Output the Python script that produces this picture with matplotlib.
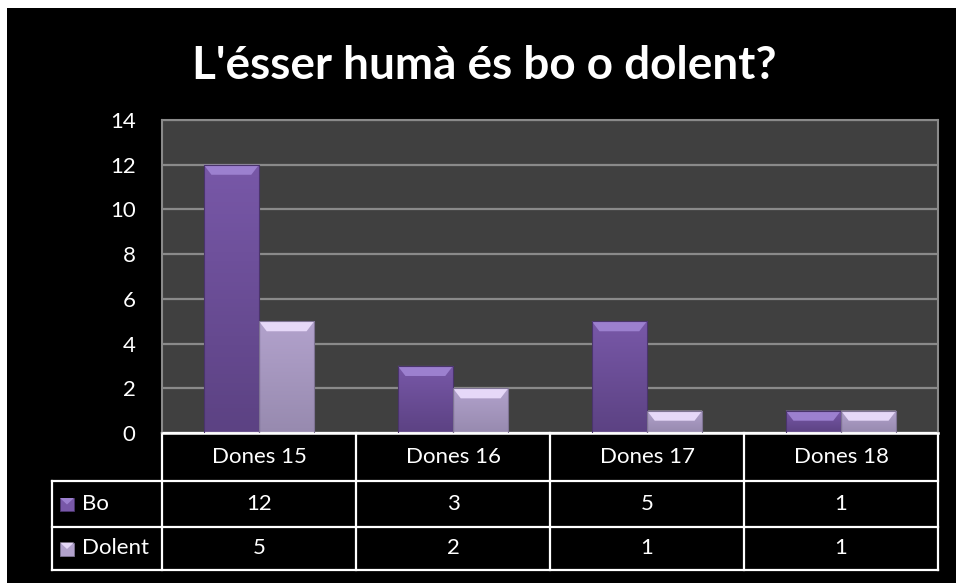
import numpy as np
import matplotlib
matplotlib.use("Agg")
import matplotlib.pyplot as plt
from matplotlib.patches import Rectangle, Polygon
from matplotlib.colors import LinearSegmentedColormap

categories = ["Dones 15", "Dones 16", "Dones 17", "Dones 18"]
series_names = ["Bo", "Dolent"]
bo_values = [12, 3, 5, 1]
dolent_values = [5, 2, 1, 1]
y_ticks = [0, 2, 4, 6, 8, 10, 12, 14]
title = "L'ésser humà és bo o dolent?"

FONT = ["Lato", "DejaVu Sans"]
plt.rcParams["font.family"] = FONT

W, H = 956, 583
fig = plt.figure(figsize=(W / 100, H / 100), dpi=100, facecolor="white")

# black slide background
fig.patches.append(Rectangle((7 / W, 0), 1 - 7 / W, 1 - 8 / H, transform=fig.transFigure,
                             facecolor="black", edgecolor="none", zorder=-10))

L, R, T, B = 162, 938, 120, 433
ax = fig.add_axes([L / W, 1 - B / H, (R - L) / W, (B - T) / H])
ax.set_facecolor("#404040")

x = np.arange(len(categories))
width = 0.285
offs = [-0.1425, 0.1425]
series = [bo_values, dolent_values]
body_top = ["#7858a8", "#b2a2cc"]
body_bot = ["#5c4283", "#978aaf"]
bevel = ["#9c80cf", "#e6d8f8"]
edge = ["#4a346c", "#7f7494"]

ax.set_xlim(-0.5, 3.5)
ax.set_ylim(0, 14)
ax.set_yticks(y_ticks)
ax.yaxis.grid(True, color="#8a8a8a", lw=1.6)
ax.set_axisbelow(True)
ax.set_xticks([])
ax.tick_params(axis="y", length=0, pad=19, labelsize=16, labelcolor="white")
for s in ["top", "left", "right"]:
    ax.spines[s].set_color("#8a8a8a")
    ax.spines[s].set_linewidth(1.5)
ax.spines["bottom"].set_color("white")
ax.spines["bottom"].set_linewidth(1.8)

for i, vals in enumerate(series):
    bars = ax.bar(x + offs[i], vals, width, color="none", edgecolor=edge[i], lw=0.8, zorder=3)
    cmap = LinearSegmentedColormap.from_list("g%d" % i, [body_bot[i], body_top[i]])
    for b in bars:
        x0, y0 = b.get_x(), b.get_y()
        w, h = b.get_width(), b.get_height()
        im = ax.imshow(np.linspace(0, 1, 64).reshape(-1, 1), cmap=cmap, origin="lower",
                       extent=[x0, x0 + w, y0, y0 + h], aspect="auto", zorder=2)
        im.set_clip_path(b)
        bh = min(0.45, h * 0.5)
        bi = w * 0.14
        ax.add_patch(Polygon([[x0, y0 + h], [x0 + w, y0 + h], [x0 + w - bi, y0 + h - bh],
                              [x0 + bi, y0 + h - bh]], closed=True, facecolor=bevel[i],
                             edgecolor="none", zorder=2.5))
ax.set_xlim(-0.5, 3.5)
ax.set_ylim(0, 14)

# data table below the plot
tr = ax.get_xaxis_transform()
ph = B - T
rows_px = [433, 481, 527, 570]
ry = [(B - p) / ph for p in rows_px]
xl = -0.5 - (L - 52) / ((R - L) / 4)
lc = "white"
lw = 1.6
ax.plot([-0.5, 3.5], [ry[0], ry[0]], transform=tr, color=lc, lw=lw, clip_on=False)
for yy in ry[1:]:
    ax.plot([xl, 3.5], [yy, yy], transform=tr, color=lc, lw=lw, clip_on=False)
for xv in np.arange(len(categories) + 1) - 0.5:
    ax.plot([xv, xv], [ry[0], ry[-1]], transform=tr, color=lc, lw=lw, clip_on=False)
ax.plot([xl, xl], [ry[1], ry[-1]], transform=tr, color=lc, lw=lw, clip_on=False)

fs = 16
for j, c in enumerate(categories):
    ax.text(x[j], (ry[0] + ry[1]) / 2, c, transform=tr, ha="center", va="center",
            color="white", fontsize=fs)
    for i, vals in enumerate(series):
        ax.text(x[j], (ry[i + 1] + ry[i + 2]) / 2, str(vals[j]), transform=tr, ha="center",
                va="center", color="white", fontsize=fs)

for i, name in enumerate(series_names):
    yc = (ry[i + 1] + ry[i + 2]) / 2
    ax.text(xl + 0.155, yc, name, transform=tr, ha="left", va="center", color="white", fontsize=fs)
    ypx = (rows_px[i + 1] + rows_px[i + 2]) / 2
    fig.patches.append(Rectangle((60 / W, 1 - (ypx + 7) / H), 14 / W, 13 / H,
                                 transform=fig.transFigure, facecolor=body_top[i],
                                 edgecolor=edge[i], lw=0.6, zorder=5))
    fig.patches.append(Polygon([[60 / W, 1 - (ypx - 6) / H], [74 / W, 1 - (ypx - 6) / H],
                                [67 / W, 1 - (ypx + 0.5) / H]],
                               transform=fig.transFigure, facecolor=bevel[i], edgecolor="none",
                               zorder=6))

fig.text(484 / W, 1 - 66 / H, title, ha="center", va="center", color="white",
         fontsize=33, fontweight="bold")

fig.savefig("out.png", dpi=100, facecolor="white")
